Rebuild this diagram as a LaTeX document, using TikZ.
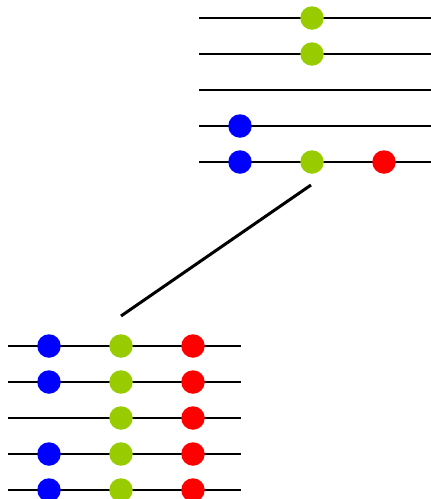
\documentclass[tikz,border=0pt]{standalone}
\definecolor{dotblue}{RGB}{0,0,255}
\definecolor{dotgreen}{RGB}{153,204,0}
\definecolor{dotred}{RGB}{255,0,0}
\tikzset{
  wire/.style={line width=2pt, black},
  link/.style={line width=3pt, black},
  bead/.style={circle, inner sep=0pt, minimum size=23.5pt},
  bblue/.style={bead, fill=dotblue},
  bgreen/.style={bead, fill=dotgreen},
  bred/.style={bead, fill=dotred}
}
\begin{document}
\begin{tikzpicture}[x=1pt,y=-1pt]
\useasboundingbox (0,0) rectangle (431,499);
% upper group of wires
\foreach \i/\y in {1/18,2/54,3/90,4/126,5/162}{
  \coordinate (ua\i) at (199,\y);
  \coordinate (ub\i) at (431,\y);
  \draw[wire] (ua\i) -- (ub\i);
}
\node[bgreen] (ug1) at (312,18) {};
\node[bgreen] (ug2) at (312,54) {};
\node[bblue] (uk4) at (240,126) {};
\node[bblue] (uk5) at (240,162) {};
\node[bgreen] (ug5) at (312,162) {};
\node[bred] (ur5) at (384,162) {};
% lower group of wires
\foreach \i/\y in {1/346,2/382,3/418,4/454,5/490}{
  \coordinate (la\i) at (8,\y);
  \coordinate (lb\i) at (241,\y);
  \draw[wire] (la\i) -- (lb\i);
}
\foreach \i/\y in {1/346,2/382,4/454,5/490}{
  \node[bblue] (lk\i) at (49,\y) {};
}
\foreach \i/\y in {1/346,2/382,3/418,4/454,5/490}{
  \node[bgreen] (lg\i) at (121,\y) {};
  \node[bred] (lr\i) at (193,\y) {};
}
% connecting stroke
\coordinate (cTop) at (311,185);
\coordinate (cBot) at (121,316);
\draw[link] (cTop) -- (cBot);
\end{tikzpicture}
\end{document}
